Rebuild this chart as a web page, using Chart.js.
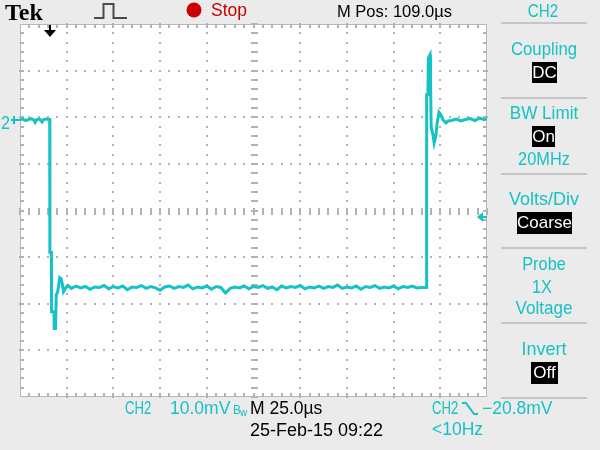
<!DOCTYPE html>
<html>
<head>
<meta charset="utf-8">
<script src="https://cdn.jsdelivr.net/npm/chart.js@4/dist/chart.umd.min.js"></script>
<style>
  html, body { margin: 0; padding: 0; background: #ebebeb; }
  #wrap { position: relative; width: 600px; height: 450px; overflow: hidden; font-family: "Liberation Sans", Arial, sans-serif; }
  #scope { position: absolute; left: 0; top: 0; }
  .t { position: absolute; white-space: nowrap; line-height: 1; }
  .box { position: absolute; background: #000; color: #fff; text-align: center; font-size: 17px; }
  .sep { position: absolute; left: 501px; width: 86px; height: 2px; background: #c6c6c6; }
  svg { position: absolute; left: 0; top: 0; }
</style>
</head>
<body>
<div id="wrap">
  <canvas id="scope" width="600" height="450"></canvas>
  <svg width="600" height="450">
    <polyline points="94,18 103.5,18 103.5,4 113.5,4 113.5,18 127,18" fill="none" stroke="#4a4a4a" stroke-width="2"/>
    <circle cx="194" cy="10" r="7.5" fill="#cc0000"/>
    <polyline points="462,403 466,403 474,414 478,414" fill="none" stroke="#16c2c4" stroke-width="2"/>
  </svg>
  <div class="sep" style="top:22px"></div>
  <div class="sep" style="top:97px"></div>
  <div class="sep" style="top:173px"></div>
  <div class="sep" style="top:247px"></div>
  <div class="sep" style="top:322px"></div>
  <div class="sep" style="top:397px"></div>
  <div class="box" style="left:532px;top:62px;width:25px;height:21px;line-height:21px">DC</div>
  <div class="box" style="left:532px;top:126px;width:23px;height:21px;line-height:21px">On</div>
  <div class="box" style="left:517px;top:212px;width:55px;height:22px;line-height:22px">Coarse</div>
  <div class="box" style="left:531px;top:362px;width:27px;height:22px;line-height:22px">Off</div>
</div>
<script>
  // CH2 trace, time in microseconds (M 25.0us/div), level in mV (10.0mV/div, ground = 0)
  var timeUs = [
    0, 1.5, 3, 4.5, 6, 7.5, 8.1, 9, 10.5, 11.8, 12.6, 14, 15.3,
    15.9, 16.0, 16.8, 16.9, 18.2, 18.3, 19.0, 19.4, 20.1, 21.3, 22.0, 22.5, 23.3, 24.6, 25.7,
    27.5, 30, 32.5, 35, 37.5, 40, 42.5, 45, 47.5, 50,
    52.5, 55, 57.5, 60, 62.5, 65, 67.5, 70, 72.5, 75,
    77.5, 80, 82.5, 85, 87.5, 90, 92.5, 95, 97.5, 100,
    102.5, 105, 107.5, 110, 112.5, 115, 117.5, 120, 122.5, 125,
    127.5, 130, 132.5, 135, 137.5, 140, 142.5, 145, 147.5, 150,
    152.5, 155, 157.5, 160, 162.5, 165, 167.5, 170, 172.5, 175,
    177.5, 180, 182.5, 185, 187.5, 190, 192.5, 195, 197.5, 200,
    202.5, 205, 207.5, 210, 212.5,
    215.2, 217.6, 217.7, 218.4, 218.6, 219.5, 219.8, 220.1, 221.1, 221.7, 222.7, 223.3, 224.3, 225.4, 226.5, 228.1, 229.1,
    231, 233.5, 236, 238.5, 241, 243.5, 246, 248.5, 250
  ];
  var ch2mV = [
    0, 0.1, -0.2, 0, 0.2, -0.1, -0.6, 0, 0.1, -0.5, 0, 0.1, 0,
    0, -28.5, -28.5, -41.2, -41.2, -44.8, -44.8, -37.5, -37.1, -33.9, -34.1, -35.0, -36.9, -36.0, -35.6,
    -36.2, -35.7, -36.1, -35.8, -36.4, -35.9, -36.0, -35.6, -36.3, -35.8,
    -36.1, -35.7, -36.5, -35.9, -36.0, -35.6, -36.2, -35.8, -36.1, -36.6,
    -35.9, -35.7, -36.2, -35.8, -36.0, -35.5, -36.3, -35.9, -36.1, -35.7,
    -36.4, -35.8, -36.0, -37.2, -36.2, -35.9, -36.1, -35.7, -36.3, -35.8,
    -36.0, -35.6, -36.2, -35.9, -36.5, -35.7, -36.1, -35.8, -36.0, -35.6,
    -36.3, -35.9, -36.1, -35.7, -36.2, -35.8, -36.0, -35.5, -36.2, -35.9,
    -36.1, -35.7, -36.4, -35.8, -36.0, -35.6, -36.2, -35.9, -36.1, -35.7,
    -36.3, -35.8, -36.0, -35.7, -36.1,
    -36.0, -36.0, 5.3, 5.3, 13.2, 13.9, 8.1, -1.6, -3.3, -5.0, -3.3, -0.7, 1.6, 1.0, -0.1, -0.7, -0.3,
    -0.2, 0.1, -0.3, 0, 0.2, -0.2, 0.3, 0, 0.2
  ];
  var X_MIN = 0, X_MAX = 250, X_DIV = 25;        // 10 divisions
  var Y_MIN = -59.5, Y_MAX = 20.5, Y_DIV = 10;   // 8 divisions
  var TRIG_US = 16;
  var TRIG_MV = -20.8;

  var CYAN = "#16c2c4";
  var DOT = "#b2b2b2";

  var points = timeUs.map(function (t, i) { return { x: t, y: ch2mV[i] }; });

  // text overlay: x = left (or centre when align is "c"), yc = middle of capitals
  var labels = [
    ["Tek", 5, 11.3, 24, "#000", "l", 1, "bold", "'Liberation Serif', serif"],
    ["Stop", 211, 10.3, 17.5, "#c80000", "l", 1],
    ["M Pos: 109.0\u00b5s", 337, 10.7, 16.5, "#000", "l", 1],
    ["CH2", 543, 10.5, 19, CYAN, "c", 0.8],
    ["Coupling", 544, 48.7, 19, CYAN, "c", 0.88],
    ["BW Limit", 544, 112.5, 19, CYAN, "c", 0.9],
    ["20MHz", 544, 158.8, 19, CYAN, "c", 0.86],
    ["Volts/Div", 544, 198.3, 19, CYAN, "c", 0.95],
    ["Probe", 544, 263.3, 19, CYAN, "c", 0.86],
    ["1X", 542, 286, 19, CYAN, "c", 0.86],
    ["Voltage", 544, 307.5, 19, CYAN, "c", 0.9],
    ["Invert", 544, 348.3, 19, CYAN, "c", 0.95],
    ["2", 1, 122.5, 19, CYAN, "l", 0.85],
    ["CH2", 125, 408.8, 17.5, CYAN, "l", 0.75],
    ["10.0mV", 170, 408.8, 17.5, CYAN, "l", 1],
    ["B", 233, 409.5, 13, CYAN, "l", 0.9],
    ["w", 240, 412, 11, CYAN, "l", 0.9],
    ["M 25.0\u00b5s", 250, 408.8, 17.5, "#000", "l", 1],
    ["25-Feb-15 09:22", 250, 430, 18, "#000", "l", 1],
    ["CH2", 432, 408.8, 17.5, CYAN, "l", 0.75],
    ["\u221220.8mV", 482, 408.8, 17.5, CYAN, "l", 1],
    ["<10Hz", 432, 430, 17.5, CYAN, "l", 1]
  ];

  function addLabels() {
    var wrap = document.getElementById("wrap");
    labels.forEach(function (l) {
      var d = document.createElement("div");
      d.className = "t";
      d.textContent = l[0];
      d.style.fontSize = l[3] + "px";
      d.style.color = l[4];
      if (l[7]) d.style.fontWeight = l[7];
      if (l[8]) d.style.fontFamily = l[8];
      d.style.top = (l[2] - 0.49 * l[3]) + "px";
      d.style.left = l[1] + "px";
      d.style.transformOrigin = "0 0";
      if (l[5] === "c") d.style.transform = "scaleX(" + l[6] + ") translateX(-50%)";
      else d.style.transform = "scaleX(" + l[6] + ")";
      wrap.appendChild(d);
    });
  }

  var graticule = {
    id: "graticule",
    beforeDatasetsDraw: function (chart) {
      var ctx = chart.ctx, a = chart.chartArea;
      var xs = chart.scales.x, ys = chart.scales.y;
      var i, j, px, py;
      ctx.save();
      ctx.fillStyle = "#fff";
      ctx.fillRect(a.left, a.top, a.right - a.left, a.bottom - a.top);

      ctx.fillStyle = DOT;
      // dotted division lines, centre lines get cross ticks instead
      for (i = 1; i < 10; i++) {
        px = Math.round(xs.getPixelForValue(X_MIN + i * X_DIV));
        for (j = 0; j <= 40; j++) {
          py = Math.round(ys.getPixelForValue(Y_MIN + j * Y_DIV / 5));
          if (i === 5) ctx.fillRect(px - 3, py - 1, 7, 2);
          else ctx.fillRect(px - 1, py - 1, 2, 2);
        }
      }
      for (j = 1; j < 8; j++) {
        py = Math.round(ys.getPixelForValue(Y_MIN + j * Y_DIV));
        for (i = 0; i <= 50; i++) {
          px = Math.round(xs.getPixelForValue(X_MIN + i * X_DIV / 5));
          if (j === 4) ctx.fillRect(px - 1, py - 3, 2, 7);
          else ctx.fillRect(px - 1, py - 1, 2, 2);
        }
      }
      // border with inward ticks
      ctx.strokeStyle = "#b8b8b8";
      ctx.lineWidth = 1;
      ctx.strokeRect(a.left + 0.5, a.top + 0.5, a.right - a.left - 1, a.bottom - a.top - 1);
      for (i = 1; i < 50; i++) {
        px = Math.round(xs.getPixelForValue(X_MIN + i * X_DIV / 5));
        ctx.fillRect(px - 1, a.top, 2, 4);
        ctx.fillRect(px - 1, a.bottom - 4, 2, 4);
      }
      for (j = 1; j < 40; j++) {
        py = Math.round(ys.getPixelForValue(Y_MIN + j * Y_DIV / 5));
        ctx.fillRect(a.left, py - 1, 4, 2);
        ctx.fillRect(a.right - 4, py - 1, 4, 2);
      }
      ctx.restore();
    },
    afterDatasetsDraw: function (chart) {
      var ctx = chart.ctx, a = chart.chartArea;
      var xs = chart.scales.x, ys = chart.scales.y;
      ctx.save();
      // trigger position marker
      var tx = Math.round(xs.getPixelForValue(TRIG_US));
      ctx.fillStyle = "#000";
      ctx.fillRect(tx - 1, a.top + 1, 2, 6);
      ctx.beginPath();
      ctx.moveTo(tx - 6, a.top + 6);
      ctx.lineTo(tx + 6, a.top + 6);
      ctx.lineTo(tx, a.top + 13);
      ctx.closePath();
      ctx.fill();
      // trigger level marker
      var ty = Math.round(ys.getPixelForValue(TRIG_MV));
      ctx.fillStyle = CYAN;
      ctx.beginPath();
      ctx.moveTo(a.right - 10, ty);
      ctx.lineTo(a.right - 4, ty - 5);
      ctx.lineTo(a.right - 4, ty + 5);
      ctx.closePath();
      ctx.fill();
      ctx.fillRect(a.right - 5, ty - 1, 5, 2);
      // channel 2 ground marker
      var gy = Math.round(ys.getPixelForValue(0));
      ctx.fillRect(11, gy - 1, a.left - 11, 2);
      ctx.fillRect(13, gy - 4, 2, 8);
      ctx.restore();
    }
  };

  new Chart(document.getElementById("scope"), {
    type: "line",
    data: {
      datasets: [{
        data: points,
        borderColor: CYAN,
        borderWidth: 3,
        pointRadius: 0,
        tension: 0,
        fill: false,
        borderJoinStyle: "miter"
      }]
    },
    options: {
      responsive: false,
      animation: false,
      events: [],
      layout: { padding: { left: 20, top: 24, right: 113, bottom: 53 } },
      plugins: { legend: { display: false }, tooltip: { enabled: false } },
      scales: {
        x: { type: "linear", min: X_MIN, max: X_MAX, display: false },
        y: { type: "linear", min: Y_MIN, max: Y_MAX, display: false }
      }
    },
    plugins: [graticule]
  });

  addLabels();
</script>
</body>
</html>
